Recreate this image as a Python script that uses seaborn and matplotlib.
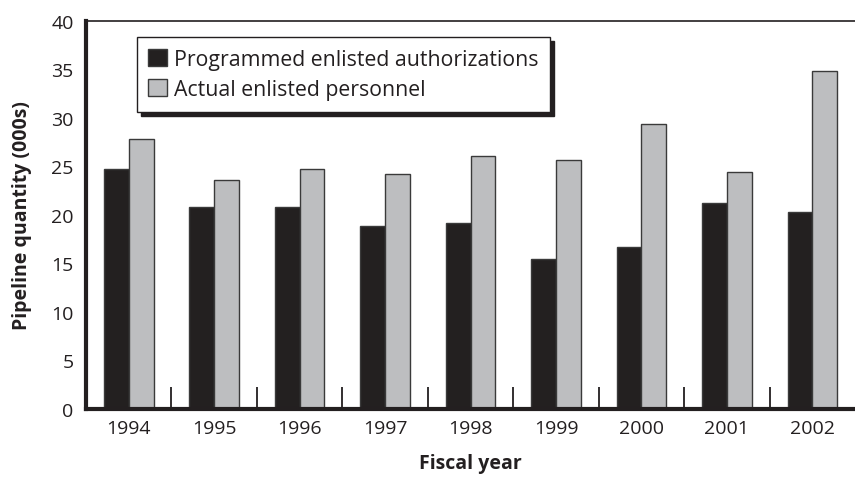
import matplotlib
matplotlib.use('Agg')
import matplotlib.pyplot as plt
import seaborn as sns
import pandas as pd
from matplotlib.ticker import FixedLocator

sns.set_theme(style="white")
plt.rcParams['font.family'] = ['Open Sans', 'DejaVu Sans']

# DATA
years = ['1994', '1995', '1996', '1997', '1998', '1999', '2000', '2001', '2002']
programmed = [24.7, 20.8, 20.8, 18.9, 19.2, 15.5, 16.7, 21.2, 20.3]
actual = [27.8, 23.6, 24.7, 24.2, 26.1, 25.6, 29.4, 24.4, 34.8]
series = ['Programmed enlisted authorizations', 'Actual enlisted personnel']
colors = ['#231f20', '#bcbec0']

df = pd.DataFrame({
    'Year': years * 2,
    'Value': programmed + actual,
    'Series': [series[0]] * len(years) + [series[1]] * len(years),
})

fig = plt.figure(figsize=(8.55, 4.81), dpi=100)
ax = fig.add_axes([0.1006, 0.1476, 0.8994, 0.8074])

sns.barplot(data=df, x='Year', y='Value', hue='Series', palette=colors,
            width=0.58, edgecolor='#3a3a3a', linewidth=1, ax=ax)

ax.set_ylim(0, 40)
ax.set_xlim(-0.5, len(years) - 0.5)
ax.set_yticks(range(0, 41, 5))
ax.tick_params(axis='y', direction='in', length=15, width=1.3, color='#231f20',
               pad=9, labelsize=14, labelcolor='#231f20')
ax.tick_params(axis='x', which='major', length=0, pad=7, labelsize=14,
               labelcolor='#231f20')
ax.xaxis.set_minor_locator(FixedLocator([i + 0.5 for i in range(len(years) - 1)]))
ax.tick_params(axis='x', which='minor', direction='in', length=16, width=1.3,
               color='#231f20', bottom=True)

for s in ['left', 'bottom']:
    ax.spines[s].set_linewidth(3)
    ax.spines[s].set_color('#231f20')
ax.spines['top'].set_linewidth(1.2)
ax.spines['top'].set_color('#231f20')
ax.spines['right'].set_visible(False)

ax.set_xlabel('Fiscal year', fontsize=14, fontweight='bold', color='#231f20', labelpad=12)
ax.set_ylabel('Pipeline quantity (000s)', fontsize=14, fontweight='bold', color='#231f20', labelpad=14)

leg = ax.legend(loc='upper left', bbox_to_anchor=(0.066, 0.958), borderaxespad=0,
                fontsize=15.3, frameon=True, fancybox=False, edgecolor='#231f20',
                handlelength=0.85, handleheight=0.85, handletextpad=0.35,
                labelspacing=0.45, borderpad=0.55,
                shadow={'color': '#231f20', 'alpha': 1, 'ox': 3, 'oy': -3})
leg.get_frame().set_linewidth(1)
for t in leg.get_texts():
    t.set_color('#231f20')

fig.savefig('out.png', dpi=100)
